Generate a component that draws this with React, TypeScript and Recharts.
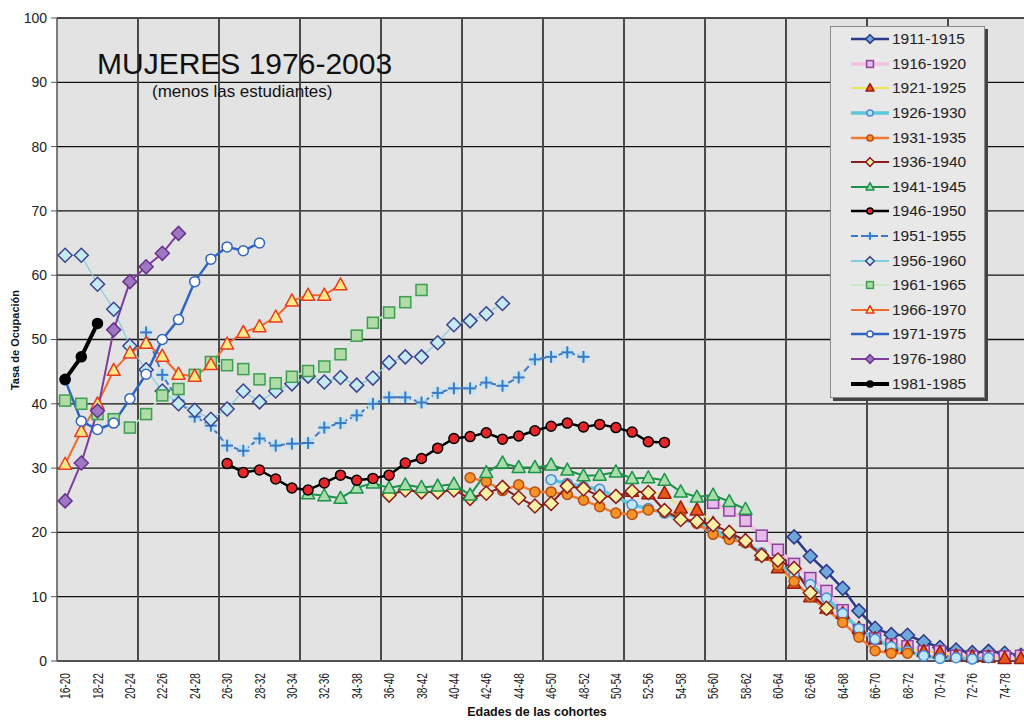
import React from 'react';
import { LineChart, Line, XAxis, YAxis, CartesianGrid } from 'recharts';

const CATEGORIES = [
    '16-20', '17-21', '18-22', '19-23', '20-24', '21-25', '22-26', '23-27', '24-28', '25-29',
    '26-30', '27-31', '28-32', '29-33', '30-34', '31-35', '32-36', '33-37', '34-38', '35-39',
    '36-40', '37-41', '38-42', '39-43', '40-44', '41-45', '42-46', '43-47', '44-48', '45-49',
    '46-50', '47-51', '48-52', '49-53', '50-54', '51-55', '52-56', '53-57', '54-58', '55-59',
    '56-60', '57-61', '58-62', '59-63', '60-64', '61-65', '62-66', '63-67', '64-68', '65-69',
    '66-70', '67-71', '68-72', '69-73', '70-74', '71-75', '72-76', '73-77', '74-78', '75-79',
];

const Y_TICKS = [0, 10, 20, 30, 40, 50, 60, 70, 80, 90, 100];

// each cohort: values start at the category index given in COHORT_START
const v1911 = [19.3, 16.3, 13.9, 11.3, 7.8, 5.1, 4.1, 4.0, 3.0, 2.1, 1.7, 1.3, 1.5, 1.2, 0.9];
const v1916 = [24.6, 23.4, 21.8, 19.5, 17.3, 15.1, 12.9, 10.9, 7.9, 4.8, 3.5, 2.6, 2.3, 1.5, 1.5, 0.8, 0.7, 0.7, 0.7, 0.8];
const v1921 = [26.4, 26.0, 26.1, 23.8, 23.5, 21.4, 19.9, 18.8, 16.5, 14.5, 12.1, 10.0, 8.2, 7.4, 5.1, 3.5, 2.3, 2.0, 1.5, 1.3, 0.8, 0.7, 0.6, 0.4, 0.4];
const v1926 = [28.2, 27.6, 27.1, 26.7, 25.5, 24.3, 23.7, 23.0, 22.0, 21.5, 20.5, 19.1, 18.4, 16.8, 15.0, 13.5, 11.9, 9.8, 7.4, 5.0, 3.4, 2.2, 1.5, 0.8, 0.4, 0.5, 0.3, 0.5];
const v1931 = [28.5, 27.9, 26.5, 27.4, 26.3, 26.3, 25.9, 25.0, 24.0, 23.0, 22.8, 23.5, 23.2, 22.4, 21.4, 19.7, 18.9, 18.4, 16.5, 14.9, 12.4, 10.0, 8.0, 6.0, 3.7, 1.6, 1.2, 1.2];
const v1936 = [25.8, 26.6, 26.3, 26.3, 26.6, 25.3, 26.1, 27.0, 25.4, 24.1, 24.5, 27.2, 26.8, 25.6, 25.6, 26.4, 26.2, 23.4, 22.0, 21.7, 21.2, 20.0, 18.7, 16.4, 15.7, 14.4, 10.6, 8.2];
const v1941 = [26.0, 25.7, 25.3, 26.9, 27.7, 26.9, 27.4, 27.0, 27.2, 27.5, 25.8, 29.3, 30.8, 30.1, 30.1, 30.5, 29.7, 28.8, 28.9, 29.4, 28.4, 28.5, 28.1, 26.3, 25.5, 25.8, 24.8, 23.6];
const v1946 = [30.7, 29.3, 29.7, 28.3, 26.9, 26.6, 27.7, 28.9, 28.1, 28.4, 28.9, 30.8, 31.5, 33.1, 34.6, 34.9, 35.5, 34.5, 35.0, 35.8, 36.5, 37.0, 36.4, 36.8, 36.3, 35.6, 34.1, 34.0];
const v1951 = [51.1, 44.5, 40.5, 38.0, 36.6, 33.5, 32.7, 34.6, 33.5, 33.8, 33.9, 36.3, 37.0, 38.2, 40.0, 41.0, 41.0, 40.2, 41.7, 42.4, 42.4, 43.3, 42.8, 44.1, 46.9, 47.3, 48.0, 47.3];
const v1956 = [63.1, 63.1, 58.6, 54.7, 49.0, 45.3, 42.0, 40.0, 39.0, 37.6, 39.2, 42.0, 40.3, 42.0, 43.1, 44.3, 43.4, 44.1, 42.9, 44.0, 46.4, 47.3, 47.3, 49.5, 52.3, 52.9, 54.0, 55.6];
const v1961 = [40.5, 40.0, 38.4, 37.6, 36.3, 38.4, 41.3, 42.3, 44.5, 46.5, 46.0, 45.4, 43.8, 43.2, 44.2, 45.1, 45.8, 47.7, 50.6, 52.6, 54.2, 55.8, 57.7];
const v1966 = [30.6, 35.7, 40.0, 45.2, 47.9, 49.4, 47.4, 44.6, 44.3, 46.1, 49.3, 51.1, 52.0, 53.5, 56.0, 56.9, 56.9, 58.5];
const v1971 = [43.7, 37.3, 36.0, 37.0, 40.8, 44.6, 50.0, 53.1, 59.0, 62.5, 64.4, 63.8, 65.0];
const v1976 = [24.9, 30.8, 38.9, 51.5, 59.0, 61.3, 63.4, 66.5];
const v1981 = [43.8, 47.3, 52.5];

const COHORTS = ['1911-1915', '1916-1920', '1921-1925', '1926-1930', '1931-1935', '1936-1940', '1941-1945', '1946-1950',
    '1951-1955', '1956-1960', '1961-1965', '1966-1970', '1971-1975', '1976-1980', '1981-1985'];
const COHORT_START = [45, 40, 35, 30, 25, 20, 15, 10, 5, 0, 0, 0, 0, 0, 0];
const COHORT_VALUES = [v1911, v1916, v1921, v1926, v1931, v1936, v1941, v1946, v1951, v1956, v1961, v1966, v1971, v1976, v1981];

type Kind = 'circle' | 'square' | 'diamond' | 'triangle' | 'plus';
type Style = { line: string; width: number; dash?: string; kind: Kind; fill: string; stroke: string };

const STYLES: Style[] = [
    { line: '#2e3a87', width: 2.5, kind: 'diamond', fill: '#6fa8dc', stroke: '#2e3a87' },
    { line: '#f3bfe2', width: 3.5, kind: 'square', fill: '#e6bde8', stroke: '#9040a0' },
    { line: '#eee455', width: 1.6, kind: 'triangle', fill: '#e8561a', stroke: '#9b1c0c' },
    { line: '#5cc8dc', width: 3.5, kind: 'circle', fill: '#bfe8f5', stroke: '#4a88d8' },
    { line: '#f47a30', width: 2.5, kind: 'circle', fill: '#f5922a', stroke: '#b85010' },
    { line: '#8c1c1c', width: 2, kind: 'diamond', fill: '#f7f1a6', stroke: '#8c1c1c' },
    { line: '#1a9448', width: 2, kind: 'triangle', fill: '#a8dca8', stroke: '#1a9448' },
    { line: '#000000', width: 2.5, kind: 'circle', fill: '#e8262a', stroke: '#000000' },
    { line: '#3a78c8', width: 2, dash: '7 3', kind: 'plus', fill: '#bde5f0', stroke: '#3a78c8' },
    { line: '#7dcfe0', width: 1.2, kind: 'diamond', fill: '#c5eaf2', stroke: '#3b4290' },
    { line: '#c8eac8', width: 1.6, kind: 'square', fill: '#b0dca8', stroke: '#3d9e50' },
    { line: '#f26a2a', width: 2, kind: 'triangle', fill: '#fbe984', stroke: '#ea3a1e' },
    { line: '#2f65c2', width: 2.5, kind: 'circle', fill: '#ffffff', stroke: '#2f65c2' },
    { line: '#7d3d9d', width: 2, kind: 'diamond', fill: '#9f78c4', stroke: '#6a3290' },
    { line: '#000000', width: 4, kind: 'circle', fill: '#000000', stroke: '#000000' },
];

const data = CATEGORIES.map((cat, i) => {
    const row: any = { cat };
    COHORTS.forEach((c, k) => {
        const j = i - COHORT_START[k];
        const vals = COHORT_VALUES[k];
        row[c] = j >= 0 && j < vals.length ? vals[j] : null;
    });
    return row;
});

const FONT = '"Liberation Sans", Arial, sans-serif';

function Marker({ kind, x, y, fill, stroke, s = 1 }: { kind: Kind; x: number; y: number; fill: string; stroke: string; s?: number }) {
    const sw = 1.5;
    if (kind === 'circle') return <circle cx={x} cy={y} r={5 * s} fill={fill} stroke={stroke} strokeWidth={sw} />;
    if (kind === 'square') {
        const h = 5.5 * s;
        return <rect x={x - h} y={y - h} width={2 * h} height={2 * h} fill={fill} stroke={stroke} strokeWidth={sw} />;
    }
    if (kind === 'diamond') {
        const h = 7 * s;
        return <polygon points={`${x},${y - h} ${x + h},${y} ${x},${y + h} ${x - h},${y}`} fill={fill} stroke={stroke} strokeWidth={sw} />;
    }
    if (kind === 'triangle') {
        return (
            <polygon
                points={`${x},${y - 7 * s} ${x + 6.5 * s},${y + 5 * s} ${x - 6.5 * s},${y + 5 * s}`}
                fill={fill} stroke={stroke} strokeWidth={sw} strokeLinejoin="round"
            />
        );
    }
    const a = 6 * s;
    return (
        <g>
            <rect x={x - 5 * s} y={y - 5 * s} width={10 * s} height={10 * s} fill={fill} opacity={0.9} />
            <line x1={x - a} x2={x + a} y1={y} y2={y} stroke={stroke} strokeWidth={2} />
            <line x1={x} x2={x} y1={y - a} y2={y + a} stroke={stroke} strokeWidth={2} />
        </g>
    );
}

const makeDot = (st: Style) => (props: any) => {
    const { cx, cy, index } = props;
    if (cx == null || cy == null || Number.isNaN(cy)) return <g key={`e${index}`} />;
    return (
        <g key={`d${index}`}>
            <Marker kind={st.kind} x={cx} y={cy} fill={st.fill} stroke={st.stroke} />
        </g>
    );
};

const XTick = (props: any) => {
    const { x, payload } = props;
    const y = 673;
    return (
        <text
            x={x} y={y} transform={`rotate(-90 ${x} ${y})`} textAnchor="end" dy="0.36em"
            fontSize={14} fill="#222" fontFamily={FONT} textLength={26} lengthAdjust="spacingAndGlyphs"
        >
            {payload.value}
        </text>
    );
};

// vertical gridlines every 5 categories, on the category boundaries
const vGrid = ({ offset }: any) => [1, 2, 3, 4, 5, 6, 7, 8, 9, 10, 11].map(k => offset.left + (offset.width * k) / 12);

function ChartLegend() {
    return (
        <div
            style={{
                position: 'absolute', left: 830, top: 26, width: 155, height: 372, boxSizing: 'border-box',
                background: '#e8e8e8', border: '1px solid #8a8a8a', boxShadow: '3px 3px 0 #444', fontFamily: FONT,
            }}
        >
            {COHORTS.map((c, k) => {
                const st = STYLES[k];
                return (
                    <div key={c} style={{ height: 24.6, display: 'flex', alignItems: 'center', paddingLeft: 20 }}>
                        <svg width={40} height={20} style={{ display: 'block' }}>
                            <line x1={0} x2={38} y1={10} y2={10} stroke={st.line} strokeWidth={Math.max(st.width, 2)} strokeDasharray={st.dash} />
                            <Marker kind={st.kind} x={19} y={10} fill={st.fill} stroke={st.stroke} s={0.62} />
                        </svg>
                        <span style={{ fontSize: 15.5, color: '#222', marginLeft: 1, lineHeight: '20px' }}>{c}</span>
                    </div>
                );
            })}
        </div>
    );
}

export default function App() {
    return (
        <div style={{ position: 'absolute', left: 0, top: 0, width: 1024, height: 720, overflow: 'hidden', background: '#fff' }}>
            <LineChart width={1040} height={720} data={data} margin={{ top: 18, right: 11, bottom: 0, left: 10 }}>
                <CartesianGrid vertical={false} stroke="#111" strokeWidth={1.3} fill="#e3e3e3" fillOpacity={1} />
                <CartesianGrid horizontal={false} stroke="#4a4a4a" strokeWidth={2} verticalCoordinatesGenerator={vGrid} />
                <XAxis
                    dataKey="cat" type="category" interval={1} height={59} tick={<XTick />}
                    padding={{ left: 8.1, right: 8.1 }}
                    tickLine={false} axisLine={{ stroke: '#555', strokeWidth: 1.5 }}
                />
                <YAxis
                    domain={[0, 100]} ticks={Y_TICKS} width={47} tickSize={6} tickMargin={4}
                    tick={{ fontSize: 14, fill: '#222', fontFamily: FONT }}
                    tickLine={{ stroke: '#555' }} axisLine={{ stroke: '#555', strokeWidth: 1.5 }}
                />
                {COHORTS.map((c, k) => (
                    <Line
                        key={c} dataKey={c} type="linear" stroke={STYLES[k].line} strokeWidth={STYLES[k].width}
                        strokeDasharray={STYLES[k].dash} strokeLinejoin="round" dot={makeDot(STYLES[k])}
                        activeDot={false} isAnimationActive={false} connectNulls={false}
                    />
                ))}
            </LineChart>
            <svg width={1024} height={720} style={{ position: 'absolute', left: 0, top: 0, pointerEvents: 'none' }}>
                <text x={97} y={74} fontSize={30} fontFamily={FONT} fill="#111">MUJERES 1976-2003</text>
                <text x={152} y={97} fontSize={17} fontFamily={FONT} fill="#111">(menos las estudiantes)</text>
                <text x={19} y={340} fontSize={11} fontWeight="bold" fontFamily={FONT} fill="#111"
                    textAnchor="middle" transform="rotate(-90 19 340)">Tasa de Ocupación</text>
                <text x={537} y={716} fontSize={12.5} fontWeight="bold" fontFamily={FONT} fill="#111"
                    textAnchor="middle">Edades de las cohortes</text>
            </svg>
            <ChartLegend />
        </div>
    );
}
